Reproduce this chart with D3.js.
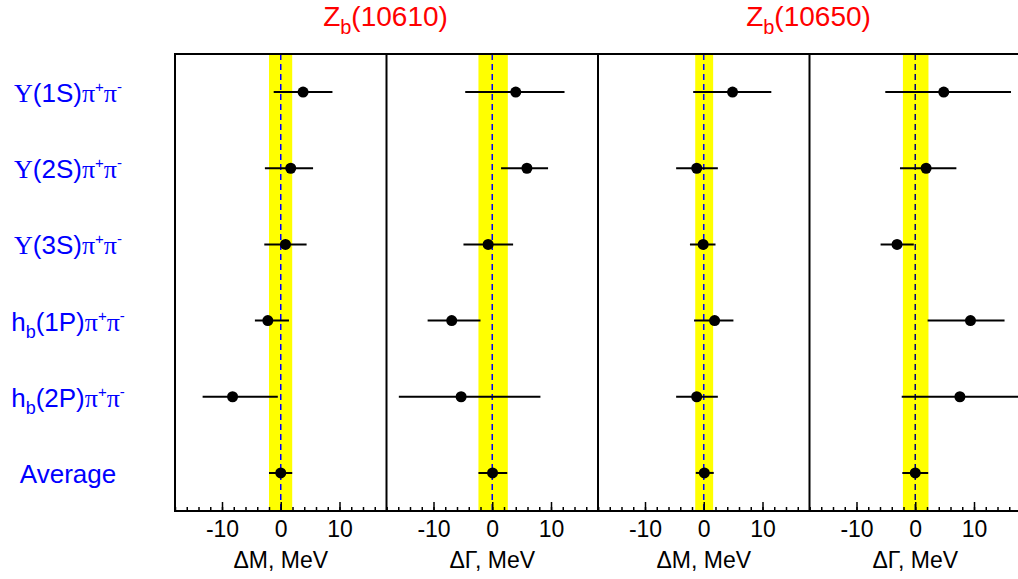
<!DOCTYPE html>
<html>
<head>
<meta charset="utf-8">
<script src="https://cdn.jsdelivr.net/npm/d3@7"></script>
<style>
  html, body { margin: 0; padding: 0; background: #ffffff; }
  svg { display: block; }
</style>
</head>
<body>
<svg id="chart" width="1018" height="579"></svg>
<script>
// ---------------- DATA ----------------
const categories = ["Υ(1S)π+π-", "Υ(2S)π+π-", "Υ(3S)π+π-", "hb(1P)π+π-", "hb(2P)π+π-", "Average"];

const resonanceTitles = ["10610", "10650"];
const panelAxisTitles = ["ΔM, MeV", "ΔΓ, MeV", "ΔM, MeV", "ΔΓ, MeV"];

const majorTickValues = [-10, 0, 10];
const majorTickLabels = ["-10", "0", "10"];
const minorTickValues = [-18, -16, -14, -12, -10, -8, -6, -4, -2, 0, 2, 4, 6, 8, 10, 12, 14, 16, 18];
const axisDomain = [-18, 18];

// Zb(10610) ΔM
const p1Center = [3.8, 1.7, 0.8, -2.2, -8.2, 0.0];
const p1Minus  = [5.0, 4.4, 3.6, 2.2, 5.1, 2.0];
const p1Plus   = [5.0, 3.8, 3.6, 3.6, 7.7, 1.95];
const p1Band   = [-2.0, 1.95];

// Zb(10610) ΔΓ
const p2Center = [4.0, 5.9, -0.7, -6.9, -5.3, 0.05];
const p2Minus  = [8.6, 4.4, 4.2, 4.1, 10.6, 2.4];
const p2Plus   = [8.3, 3.6, 4.25, 4.9, 13.5, 2.5];
const p2Band   = [-2.35, 2.65];

// Zb(10650) ΔM
const p3Center = [4.9, -1.2, -0.1, 1.85, -1.2, 0.1];
const p3Minus  = [6.7, 3.5, 2.25, 3.5, 3.5, 1.45];
const p3Plus   = [6.6, 3.6, 2.1, 3.2, 3.6, 1.6];
const p3Band   = [-1.45, 1.6];

// Zb(10650) ΔΓ
const p4Center = [4.85, 1.85, -3.1, 9.4, 7.6, 0.0];
const p4Minus  = [9.95, 4.45, 2.8, 7.3, 9.9, 2.2];
const p4Plus   = [11.45, 5.15, 2.85, 5.8, 11.0, 2.2];
const p4Band   = [-2.1, 2.25];

const panels = [
  { center: p1Center, minus: p1Minus, plus: p1Plus, band: p1Band, dash: "#0000ff", title: panelAxisTitles[0] },
  { center: p2Center, minus: p2Minus, plus: p2Plus, band: p2Band, dash: "#0000ff", title: panelAxisTitles[1] },
  { center: p3Center, minus: p3Minus, plus: p3Plus, band: p3Band, dash: "#0000ff", title: panelAxisTitles[2] },
  { center: p4Center, minus: p4Minus, plus: p4Plus, band: p4Band, dash: "#000080", title: panelAxisTitles[3] }
];

// ---------------- LAYOUT ----------------
const svg = d3.select("#chart");
const W = 1018, H = 579;
const plotLeft = 175, panelW = 211.5, plotTop = 54, plotBottom = 511;
const sans = "'Liberation Sans', Arial, Helvetica, sans-serif";
const serif = "'Liberation Serif', 'Times New Roman', serif";

svg.append("rect").attr("width", W).attr("height", H).attr("fill", "#fff");

const y = d3.scalePoint().domain(categories).range([plotTop, plotBottom]).padding(0.5);

panels.forEach((p, i) => {
  const x0 = plotLeft + i * panelW;
  const x = d3.scaleLinear().domain(axisDomain).range([x0, x0 + panelW]);
  const g = svg.append("g");
  const clipId = "clip" + i;
  svg.append("clipPath").attr("id", clipId)
    .append("rect").attr("x", x0).attr("y", plotTop).attr("width", panelW).attr("height", plotBottom - plotTop);

  const inner = g.append("g").attr("clip-path", `url(#${clipId})`);

  // yellow band
  inner.append("rect")
    .attr("x", x(p.band[0])).attr("y", plotTop)
    .attr("width", x(p.band[1]) - x(p.band[0]))
    .attr("height", plotBottom - plotTop)
    .attr("fill", "#ffff00");

  // dashed zero line
  inner.append("line")
    .attr("x1", x(0)).attr("x2", x(0))
    .attr("y1", plotTop).attr("y2", plotBottom)
    .attr("stroke", p.dash).attr("stroke-width", 1.5)
    .attr("stroke-dasharray", "6,4");

  // error bars
  inner.selectAll("line.err").data(categories).enter().append("line")
    .attr("class", "err")
    .attr("x1", (d, k) => x(p.center[k] - p.minus[k]))
    .attr("x2", (d, k) => x(p.center[k] + p.plus[k]))
    .attr("y1", d => y(d)).attr("y2", d => y(d))
    .attr("stroke", "#000").attr("stroke-width", 2);

  // points
  inner.selectAll("circle").data(categories).enter().append("circle")
    .attr("cx", (d, k) => x(p.center[k]))
    .attr("cy", d => y(d))
    .attr("r", 5.5)
    .attr("fill", "#000");

  // frame: left and top
  g.append("line").attr("x1", x0).attr("x2", x0).attr("y1", plotTop).attr("y2", plotBottom)
    .attr("stroke", "#000").attr("stroke-width", 2);
  g.append("line").attr("x1", x0 - 1).attr("x2", x0 + panelW + 1).attr("y1", plotTop).attr("y2", plotTop)
    .attr("stroke", "#000").attr("stroke-width", 2);
  if (i === panels.length - 1) {
    g.append("line").attr("x1", x0 + panelW).attr("x2", x0 + panelW).attr("y1", plotTop).attr("y2", plotBottom)
      .attr("stroke", "#000").attr("stroke-width", 2);
  }

  // minor ticks
  const minorAxis = d3.axisBottom(x).tickValues(minorTickValues).tickSizeInner(-4).tickSizeOuter(0).tickFormat("");
  const gm = g.append("g").attr("transform", `translate(0,${plotBottom})`).call(minorAxis);
  gm.select(".domain").remove();
  gm.selectAll("line").attr("stroke", "#000").attr("stroke-width", 1.5);

  // major ticks + labels
  const majorAxis = d3.axisBottom(x).tickValues(majorTickValues)
    .tickFormat((d, k) => majorTickLabels[k])
    .tickSizeInner(-9).tickSizeOuter(0).tickPadding(10);
  const ga = g.append("g").attr("transform", `translate(0,${plotBottom})`).call(majorAxis);
  ga.select(".domain").attr("stroke", "#000").attr("stroke-width", 2).attr("d", `M${x0 - 1},0H${x0 + panelW + 1}`);
  ga.selectAll("line").attr("stroke", "#000").attr("stroke-width", 1.5);
  ga.selectAll("text").attr("font-family", sans).attr("font-size", 23).attr("fill", "#000");

  // axis title
  svg.append("text")
    .attr("x", x(0)).attr("y", 568)
    .attr("text-anchor", "middle")
    .attr("font-family", sans).attr("font-size", 23).attr("fill", "#000")
    .text(p.title);
});

// ---------------- TITLES ----------------
resonanceTitles.forEach((t, i) => {
  const cx = plotLeft + (2 * i + 1) * panelW;
  const txt = svg.append("text")
    .attr("x", cx - 1).attr("y", 26)
    .attr("text-anchor", "middle")
    .attr("font-family", sans).attr("font-size", 28).attr("fill", "#ff0000");
  txt.append("tspan").text("Z");
  txt.append("tspan").attr("font-size", 20).attr("dy", 8).text("b");
  txt.append("tspan").attr("dy", -8).text("(" + t + ")");
});

// ---------------- ROW LABELS ----------------
function labelParts(name) {
  const parts = [];
  if (name === "Average") return [{ t: "Average" }];
  let rest = name;
  if (rest.startsWith("Υ")) { parts.push({ t: "Υ", serif: true }); rest = rest.slice(1); }
  else if (rest.startsWith("hb")) { parts.push({ t: "h" }); parts.push({ t: "b", sub: true }); rest = rest.slice(2); }
  const m = rest.match(/^(\([^)]*\))/);
  parts.push({ t: m[1] });
  parts.push({ t: "π", serif: true });
  parts.push({ t: "+", sup: true });
  parts.push({ t: "π", serif: true });
  parts.push({ t: "-", sup: true });
  return parts;
}

categories.forEach(c => {
  const txt = svg.append("text")
    .attr("x", 68).attr("y", y(c) + 10)
    .attr("text-anchor", "middle")
    .attr("font-family", sans).attr("font-size", 26).attr("fill", "#0000ff");
  let shift = 0;
  labelParts(c).forEach(pt => {
    const ts = txt.append("tspan").text(pt.t);
    let target = 0;
    if (pt.serif) ts.attr("font-family", serif);
    if (pt.sup) { ts.attr("font-size", 15); target = -10; }
    if (pt.sub) { ts.attr("font-size", 18); target = 7; }
    if (target !== shift) { ts.attr("dy", target - shift); shift = target; }
  });
});
</script>
</body>
</html>
